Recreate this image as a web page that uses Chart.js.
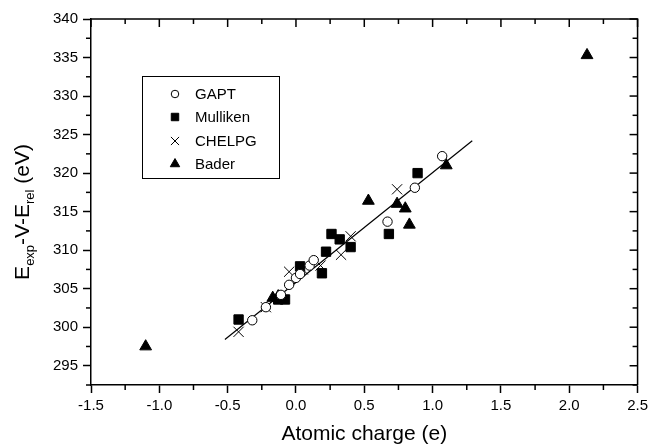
<!DOCTYPE html>
<html><head><meta charset="utf-8">
<script src="https://cdn.jsdelivr.net/npm/chart.js@4/dist/chart.umd.min.js"></script>
<style>html,body{margin:0;padding:0;background:#fff;}</style>
</head><body>
<canvas id="c" width="652" height="447" style="width:652px;height:447px;display:block"></canvas>
<script>
// ---- data ----
const seriesNames = ['GAPT', 'Mulliken', 'CHELPG', 'Bader'];
const gaptX = [-0.32, -0.22, -0.11, -0.05, 0.00, 0.03, 0.10, 0.13, 0.67, 0.87, 1.07];
const gaptY = [300.9, 302.6, 304.2, 305.5, 306.4, 306.9, 308.0, 308.7, 313.7, 318.1, 322.2];
const mullX = [-0.42, -0.13, -0.08, 0.03, 0.19, 0.22, 0.26, 0.32, 0.40, 0.68, 0.89];
const mullY = [301.0, 303.6, 303.6, 307.9, 307.0, 309.8, 312.1, 311.4, 310.4, 312.1, 320.0];
const chelX = [-0.42, -0.22, -0.05, 0.05, 0.18, 0.33, 0.40, 0.74];
const chelY = [299.4, 302.6, 307.2, 307.5, 308.0, 309.4, 311.8, 317.9];
const badX = [-1.10, -0.17, -0.13, 0.53, 0.74, 0.80, 0.83, 1.10, 2.13];
const badY = [297.5, 303.8, 304.0, 316.4, 316.0, 315.4, 313.3, 321.0, 335.3];
const fitX = [-0.52, 1.29];
const fitY = [298.4, 324.2];
const xTicks = [-1.5, -1.0, -0.5, 0.0, 0.5, 1.0, 1.5, 2.0, 2.5];
const yTicks = [295, 300, 305, 310, 315, 320, 325, 330, 335, 340];
const xMinor = [-1.25, -0.75, -0.25, 0.25, 0.75, 1.25, 1.75, 2.25];
const yMinor = [292.5, 297.5, 302.5, 307.5, 312.5, 317.5, 322.5, 327.5, 332.5, 337.5];
const xTitle = 'Atomic charge (e)';
// -------------------------------------

const pts = (xs, ys) => xs.map((v, i) => ({x: v, y: ys[i]}));
const FONT = '"Liberation Sans", Arial, sans-serif';

const markers = {
  GAPT: {pointStyle: 'circle', radius: 4.7, fill: '#fff', bw: 1},
  Mulliken: {pointStyle: 'rect', radius: 6.6, fill: '#000', bw: 1},
  CHELPG: {pointStyle: 'crossRot', radius: 7.2, fill: '#000', bw: 1},
  Bader: {pointStyle: 'triangle', radius: 6.8, fill: '#000', bw: 1}
};
function ds(name, xs, ys) {
  const m = markers[name];
  return {label: name, type: 'scatter', data: pts(xs, ys), pointStyle: m.pointStyle,
    pointRadius: m.radius, pointBackgroundColor: m.fill, pointBorderColor: '#000',
    pointBorderWidth: m.bw, showLine: false, order: 1};
}

const framePlugin = {
  id: 'frame',
  afterDraw(chart) {
    const {ctx, chartArea: a, scales: {x, y}} = chart;
    ctx.save();
    ctx.strokeStyle = '#000';
    ctx.lineWidth = 1.5;
    ctx.beginPath();
    ctx.moveTo(a.left, a.top); ctx.lineTo(a.right, a.top); ctx.lineTo(a.right, a.bottom);
    ctx.stroke();
    const seg = (x1, y1, x2, y2) => { ctx.beginPath(); ctx.moveTo(x1, y1); ctx.lineTo(x2, y2); ctx.stroke(); };
    xTicks.forEach(v => { const p = x.getPixelForValue(v); seg(p, a.top, p, a.top + 8); });
    xMinor.forEach(v => { const p = x.getPixelForValue(v); seg(p, a.top, p, a.top + 5); seg(p, a.bottom, p, a.bottom + 5); });
    yTicks.forEach(v => { const p = y.getPixelForValue(v); seg(a.right, p, a.right - 8, p); });
    yMinor.forEach(v => { const p = y.getPixelForValue(v); seg(a.right, p, a.right - 5, p); seg(a.left, p, a.left - 5, p); });

    // legend
    ctx.lineWidth = 1;
    ctx.strokeRect(142.5, 76.5, 137, 102);
    ctx.font = '15px ' + FONT;
    ctx.fillStyle = '#000';
    ctx.textBaseline = 'middle';
    ctx.textAlign = 'left';
    const rows = [94, 117, 141, 164];
    seriesNames.forEach((n, i) => {
      const m = markers[n];
      ctx.fillStyle = m.fill; ctx.strokeStyle = '#000'; ctx.lineWidth = 1;
      Chart.helpers.drawPoint(ctx, {pointStyle: m.pointStyle, radius: m.radius * 0.8, rotation: 0, borderWidth: 1}, 175, rows[i]);
      ctx.fillStyle = '#000';
      ctx.fillText(n, 195, rows[i] + 1);
    });

    // y title with subscripts
    const big = '21px ' + FONT, small = '13px ' + FONT;
    const parts = [['E', big, 0], ['exp', small, 5], ['-V-E', big, 0], ['rel', small, 5], [' (eV)', big, 0]];
    let total = 0;
    parts.forEach(p => { ctx.font = p[1]; p.w = ctx.measureText(p[0]).width; total += p.w; });
    ctx.translate(29, 212);
    ctx.rotate(-Math.PI / 2);
    ctx.textBaseline = 'alphabetic';
    let cx = -total / 2;
    parts.forEach(p => { ctx.font = p[1]; ctx.fillText(p[0], cx, p[2]); cx += p.w; });
    ctx.restore();
  }
};

new Chart(document.getElementById('c'), {
  type: 'scatter',
  data: {
    datasets: [
      {label: 'fit', type: 'line', data: pts(fitX, fitY), borderColor: '#000', borderWidth: 1.2,
       pointRadius: 0, fill: false, tension: 0, order: 2},
      ds('GAPT', gaptX, gaptY),
      ds('Mulliken', mullX, mullY),
      ds('CHELPG', chelX, chelY),
      ds('Bader', badX, badY)
    ]
  },
  options: {
    responsive: false, animation: false, devicePixelRatio: 1,
    layout: {padding: {top: 19, right: 14, left: 0, bottom: 0}},
    plugins: {legend: {display: false}, tooltip: {enabled: false}},
    scales: {
      x: {type: 'linear', min: -1.5, max: 2.5,
          afterBuildTicks: s => { s.ticks = xTicks.map(v => ({value: v})); },
          afterFit: s => { s.height = 62; },
          ticks: {font: {family: FONT, size: 15}, color: '#000', padding: 4, maxRotation: 0,
                  callback: v => v.toFixed(1)},
          grid: {drawOnChartArea: false, tickLength: 8, tickColor: '#000', tickWidth: 1.5},
          border: {color: '#000', width: 1.5},
          title: {display: true, text: xTitle, font: {family: FONT, size: 21}, color: '#000', padding: {top: 1, bottom: 0}}},
      y: {type: 'linear', min: 292.5, max: 340,
          afterBuildTicks: s => { s.ticks = yTicks.map(v => ({value: v})); },
          afterFit: s => { s.width = 91; },
          ticks: {font: {family: FONT, size: 15}, color: '#000', padding: 5, callback: v => String(v)},
          grid: {drawOnChartArea: false, tickLength: 8, tickColor: '#000', tickWidth: 1.5},
          border: {color: '#000', width: 1.5}}
    }
  },
  plugins: [framePlugin]
});
</script>
</body></html>
